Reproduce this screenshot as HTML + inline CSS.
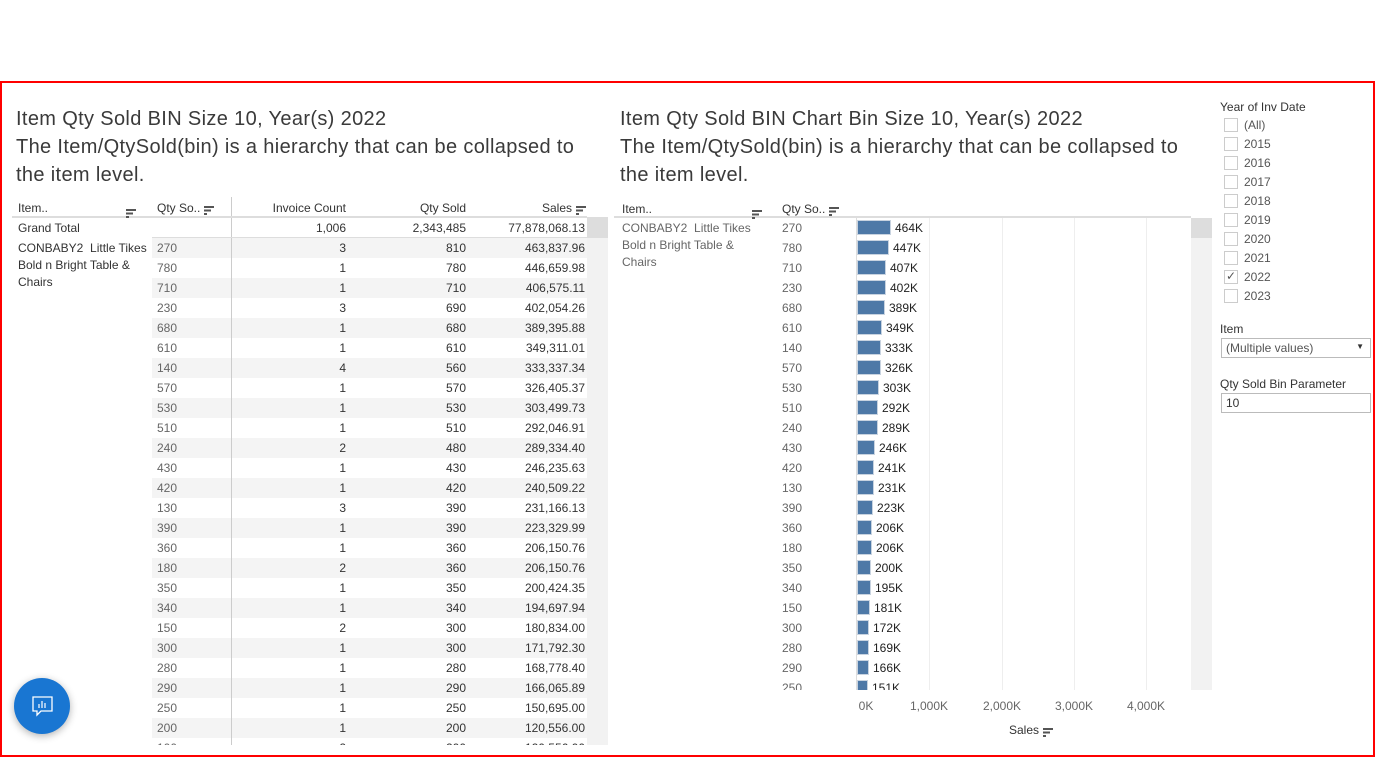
<!DOCTYPE html>
<html><head><meta charset="utf-8"><style>
*{margin:0;padding:0;box-sizing:border-box}
body{width:1375px;height:757px;background:#fff;font-family:"Liberation Sans",sans-serif;position:relative;overflow:hidden;color:#333}
.a{position:absolute;white-space:nowrap}
.t{font-size:20px;color:#3a3a3a;line-height:28px;letter-spacing:0.35px}
.h{font-size:12px;color:#333}
.c{font-size:12px;color:#333}
.g{color:#666}
.r{text-align:right}
.sort{display:inline-block;width:10px;height:9px;vertical-align:middle;margin-left:4px}
.cb{position:absolute;width:14px;height:14px;border:1px solid #ccc;background:#fff}
</style></head><body>
<div class="a" style="left:0;top:81px;width:1375px;height:676px;border:2px solid #f00"></div>

<div class="a t" style="left:16px;top:105px">Item Qty Sold BIN Size 10, Year(s) 2022<br>The Item/QtySold(bin) is a hierarchy that can be collapsed to<br>the item level.</div>
<div class="a t" style="left:620px;top:105px">Item Qty Sold BIN Chart Bin Size 10, Year(s) 2022<br>The Item/QtySold(bin) is a hierarchy that can be collapsed to<br>the item level.</div>

<div id="L"></div>
<div class="a" style="left:231px;top:197px;width:1px;height:548px;background:#ccc"></div>
<div class="a" style="left:12px;top:216px;width:575px;height:2px;background:#ddd"></div>
<div class="a" style="left:152px;top:237px;width:435px;height:1px;background:#ddd"></div>
<div class="a" style="left:587px;top:217px;width:21px;height:528px;background:#f2f2f2"></div>
<div class="a" style="left:587px;top:217px;width:21px;height:21px;background:#ddd"></div>
<div class="a h" style="left:18px;top:201px">Item..</div><div class="a" style="left:122px;top:201px"><span class="sort S"></span></div>
<div class="a h" style="left:157px;top:201px">Qty So..<span class="sort S"></span></div>
<div class="a h r" style="left:246px;top:201px;width:100px">Invoice Count</div>
<div class="a h r" style="left:366px;top:201px;width:100px">Qty Sold</div>
<div class="a h r" style="left:466px;top:201px;width:120px">Sales<span class="sort S"></span></div>
<div class="a c" style="left:18px;top:221px">Grand Total</div>
<div class="a c r" style="left:246px;top:221px;width:100px">1,006</div>
<div class="a c r" style="left:366px;top:221px;width:100px">2,343,485</div>
<div class="a c r" style="left:466px;top:221px;width:119px">77,878,068.13</div>
<div class="a c" style="left:18px;top:240px;line-height:17px;white-space:normal;width:140px">CONBABY2 &nbsp;Little Tikes Bold n Bright Table &amp; Chairs</div>

<div id="R"></div>
<div class="a" style="left:614px;top:216px;width:577px;height:2px;background:#ddd"></div>
<div class="a h" style="left:622px;top:202px">Item..</div><div class="a" style="left:748px;top:202px"><span class="sort S"></span></div>
<div class="a h" style="left:782px;top:202px">Qty So..<span class="sort S"></span></div>
<div class="a c g" style="left:622px;top:220px;line-height:17px;white-space:normal;width:140px">CONBABY2 &nbsp;Little Tikes Bold n Bright Table &amp; Chairs</div>
<div class="a" style="left:1191px;top:218px;width:21px;height:472px;background:#f2f2f2"></div>
<div class="a" style="left:1191px;top:218px;width:21px;height:20px;background:#ddd"></div>
<div class="a c g" style="left:836px;top:699px;width:60px;text-align:center">0K</div>
<div class="a c g" style="left:899px;top:699px;width:60px;text-align:center">1,000K</div>
<div class="a c g" style="left:972px;top:699px;width:60px;text-align:center">2,000K</div>
<div class="a c g" style="left:1044px;top:699px;width:60px;text-align:center">3,000K</div>
<div class="a c g" style="left:1116px;top:699px;width:60px;text-align:center">4,000K</div>
<div class="a h" style="left:1009px;top:723px">Sales<span class="sort S"></span></div>

<div class="a h" style="left:1220px;top:100px">Year of Inv Date</div>
<div id="F"></div>
<div class="a h" style="left:1220px;top:322px">Item</div>
<div class="a" style="left:1221px;top:338px;width:150px;height:20px;border:1px solid #bbb;font-size:12px;color:#555;padding:2px 4px">(Multiple values)<span style="position:absolute;right:6px;top:3px;font-size:8px;color:#333">▼</span></div>
<div class="a h" style="left:1220px;top:377px">Qty Sold Bin Parameter</div>
<div class="a" style="left:1221px;top:393px;width:150px;height:20px;border:1px solid #bbb;font-size:12px;color:#333;padding:2px 4px">10</div>

<div class="a" style="left:14px;top:678px;width:56px;height:56px;border-radius:50%;background:#1976d2;box-shadow:0 2px 8px rgba(0,0,0,.3)">
<svg width="56" height="56" viewBox="0 0 56 56"><path d="M19 19h19v14h-11l-4 4v-4h-4z" fill="none" stroke="#fff" stroke-width="1.3"/><path d="M25 30v-4M28 30v-7M31 30v-5" stroke="#fff" stroke-width="1.2"/></svg></div>

<script>
document.querySelectorAll('.S').forEach(function(e){e.innerHTML='<svg width="10" height="9"><rect x="0" y="0" width="10" height="2" fill="#555"/><rect x="0" y="3.5" width="7" height="2" fill="#555"/><rect x="0" y="7" width="3" height="2" fill="#555"/></svg>';});
var d=[[270,3,810,"463,837.96",464],[780,1,780,"446,659.98",447],[710,1,710,"406,575.11",407],[230,3,690,"402,054.26",402],[680,1,680,"389,395.88",389],[610,1,610,"349,311.01",349],[140,4,560,"333,337.34",333],[570,1,570,"326,405.37",326],[530,1,530,"303,499.73",303],[510,1,510,"292,046.91",292],[240,2,480,"289,334.40",289],[430,1,430,"246,235.63",246],[420,1,420,"240,509.22",241],[130,3,390,"231,166.13",231],[390,1,390,"223,329.99",223],[360,1,360,"206,150.76",206],[180,2,360,"206,150.76",206],[350,1,350,"200,424.35",200],[340,1,340,"194,697.94",195],[150,2,300,"180,834.00",181],[300,1,300,"171,792.30",172],[280,1,280,"168,778.40",169],[290,1,290,"166,065.89",166],[250,1,250,"150,695.00",151],[200,1,200,"120,556.00",121],[100,2,200,"120,556.00",121]];
var L='',R='';
L+='<div class="a" style="left:152px;top:238px;width:435px;height:507px;overflow:hidden">';
d.forEach(function(r,i){var y=20*i;
 L+='<div class="a" style="left:0;top:'+y+'px;width:435px;height:20px;background:'+(i%2?'#fff':'#f4f4f4')+'"></div>';
 L+='<div class="a c g" style="left:5px;top:'+(y+3)+'px">'+r[0]+'</div>';
 L+='<div class="a c r" style="left:94px;top:'+(y+3)+'px;width:100px">'+r[1]+'</div>';
 L+='<div class="a c r" style="left:214px;top:'+(y+3)+'px;width:100px">'+r[2]+'</div>';
 L+='<div class="a c r" style="left:313px;top:'+(y+3)+'px;width:120px">'+r[3]+'</div>';
});
L+='</div>';
document.getElementById('L').innerHTML=L;
R+='<div class="a" style="left:770px;top:218px;width:421px;height:472px;overflow:hidden">';
[929,1002,1074,1146].forEach(function(x){R+='<div class="a" style="left:'+(x-770)+'px;top:0;width:1px;height:472px;background:#eee"></div>';});
R+='<div class="a" style="left:86px;top:0;width:1px;height:472px;background:#ddd"></div>';
d.forEach(function(r,i){var y=20*i;var w=Math.round(r[4]*0.0724);
 R+='<div class="a c g" style="left:12px;top:'+(y+3)+'px">'+r[0]+'</div>';
 R+='<div class="a" style="left:87px;top:'+(y+2)+'px;width:'+w+'px;height:15px;background:#4e79a7;border:1px solid #c8d3e0"></div>';
 R+='<div class="a c" style="left:'+(87+w+4)+'px;top:'+(y+3)+'px;color:#222">'+r[4]+'K</div>';
});
R+='</div>';
document.getElementById('R').innerHTML=R;
var F='',ys=['(All)','2015','2016','2017','2018','2019','2020','2021','2022','2023'];
ys.forEach(function(t,i){var y=118+19*i;
 F+='<div class="cb" style="left:1224px;top:'+y+'px">'+(t=='2022'?'<span style="position:absolute;left:1px;top:-2px;font-size:12px;color:#555">✓</span>':'')+'</div>';
 F+='<div class="a c g" style="left:1244px;top:'+(y)+'px;color:#555">'+t+'</div>';
});
document.getElementById('F').innerHTML=F;
</script>
</body></html>
